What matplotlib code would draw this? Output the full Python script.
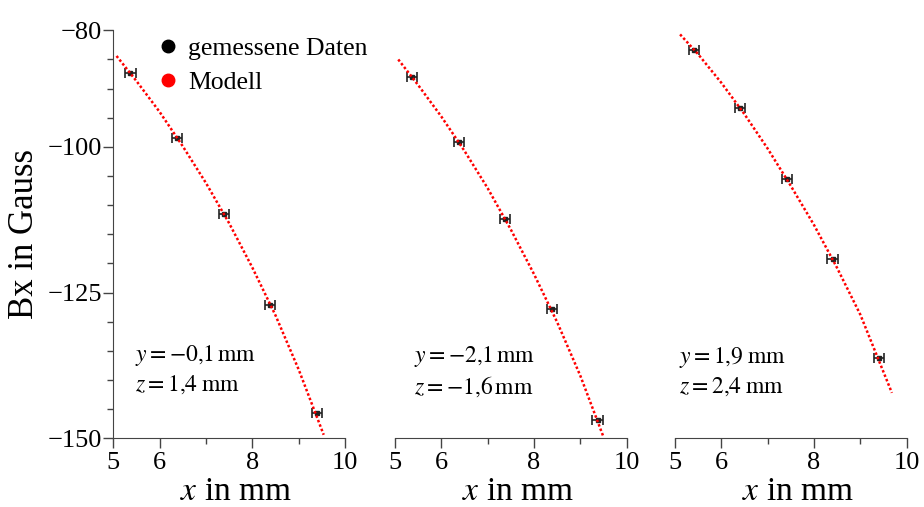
import matplotlib
matplotlib.use("Agg")
import matplotlib.pyplot as plt
from matplotlib.lines import Line2D

# measured data (x in mm, Bx in Gauss) for the three positions
x_meas = [[5.37, 6.38, 7.39, 8.39, 9.39],
          [5.37, 6.38, 7.37, 8.38, 9.37],
          [5.41, 6.40, 7.41, 8.40, 9.40]]
bx_meas = [[-87.4, -98.5, -111.5, -127.1, -145.7],
           [-88.0, -99.1, -112.3, -127.9, -146.9],
           [-83.3, -93.4, -105.5, -119.3, -136.2]]
x_err = 0.11

# model curves
x_mod = [[5.07, 5.5, 6.0, 6.5, 7.0, 7.5, 8.0, 8.5, 9.0, 9.54],
         [5.07, 5.5, 6.0, 6.5, 7.0, 7.5, 8.0, 8.5, 9.0, 9.49],
         [5.11, 5.5, 6.0, 6.5, 7.0, 7.5, 8.0, 8.5, 9.0, 9.68]]
bx_mod = [[-84.4, -88.7, -94.0, -99.9, -106.2, -113.1, -120.7, -128.9, -138.2, -149.4],
          [-85.0, -89.4, -94.8, -100.7, -107.1, -114.2, -121.85, -130.1, -139.3, -149.6],
          [-80.7, -84.1, -89.0, -94.4, -100.3, -106.7, -113.4, -120.8, -128.8, -142.2]]

annot = [r"$y = -0{,}1\,\mathrm{mm}$" + "\n" + r"$z = 1{,}4\;\mathrm{mm}$",
         r"$y = -2{,}1\,\mathrm{mm}$" + "\n" + r"$z = -1{,}6\,\mathrm{mm}$",
         r"$y = 1{,}9\;\mathrm{mm}$" + "\n" + r"$z = 2{,}4\;\mathrm{mm}$"]
annot_pos = [(5.47, -138.2), (5.40, -138.5), (5.09, -138.5)]

x_ticks = [5, 6, 8, 10]
x_minor = [7, 9]
y_ticks = [-80, -100, -125, -150]
y_minor = [-85, -90, -95, -105, -110, -115, -120, -130, -135, -140, -145]

plt.rcParams['font.family'] = ['Liberation Serif', 'DejaVu Serif']
plt.rcParams['mathtext.fontset'] = 'stix'

fig = plt.figure(figsize=(9.24, 5.07), dpi=100)
lefts = [0.1226, 0.4275, 0.7305]
spine_col = "#444444"

for i in range(3):
    ax = fig.add_axes([lefts[i], 0.1355, 0.2508, 0.8047])
    ax.errorbar(x_meas[i], bx_meas[i], xerr=x_err, fmt="s", ms=2.5,
                color="#222222", ecolor="#222222", elinewidth=1.2,
                capsize=3.5, capthick=1.2, zorder=2)
    ax.plot(x_mod[i], bx_mod[i], color="#ff0000", lw=1.8,
            linestyle=(0, (1, 0.9)), zorder=3)
    ax.set_xlim(5, 10)
    ax.set_ylim(-150, -80)
    for s in ["top", "right"]:
        ax.spines[s].set_visible(False)
    ax.spines["bottom"].set_color(spine_col)
    ax.spines["left"].set_color(spine_col)
    ax.set_xticks(x_ticks)
    ax.set_xticks(x_minor, minor=True)
    ax.tick_params(axis="x", which="major", length=7, width=1, color=spine_col,
                   labelsize=19, pad=3)
    ax.tick_params(axis="x", which="minor", length=4.3, width=1, color=spine_col)
    ax.set_xlabel(r"$x$ in mm", fontsize=24)
    ax.xaxis.set_label_coords(0.53, -0.093)
    if i == 0:
        ax.set_yticks(y_ticks)
        ax.set_yticklabels(["\u221280", "\u2212100", "\u2212125", "\u2212150"])
        ax.set_yticks(y_minor, minor=True)
        ax.tick_params(axis="y", which="major", length=7, width=1, color=spine_col,
                       labelsize=19, pad=1)
        ax.tick_params(axis="y", which="minor", length=4.3, width=1, color=spine_col)
        ax.set_ylabel("Bx in Gauss", fontsize=25)
        ax.yaxis.set_label_coords(-0.31, 0.5)
        handles = [Line2D([], [], ls="none", marker="o", ms=9, color="black"),
                   Line2D([], [], ls="none", marker="o", ms=9, color="#ff0000")]
        ax.legend(handles, ["gemessene Daten", "Modell"], loc="upper left",
                  bbox_to_anchor=(0.136, 1.009), frameon=False, fontsize=18.5,
                  handlelength=1.0, handletextpad=0.3, labelspacing=0.45,
                  borderaxespad=0)
    else:
        ax.spines["left"].set_visible(False)
        ax.set_yticks([])
    ax.text(annot_pos[i][0], annot_pos[i][1], annot[i], fontsize=17,
            ha="left", va="center", linespacing=1.3)

fig.savefig("out.png", dpi=100)
